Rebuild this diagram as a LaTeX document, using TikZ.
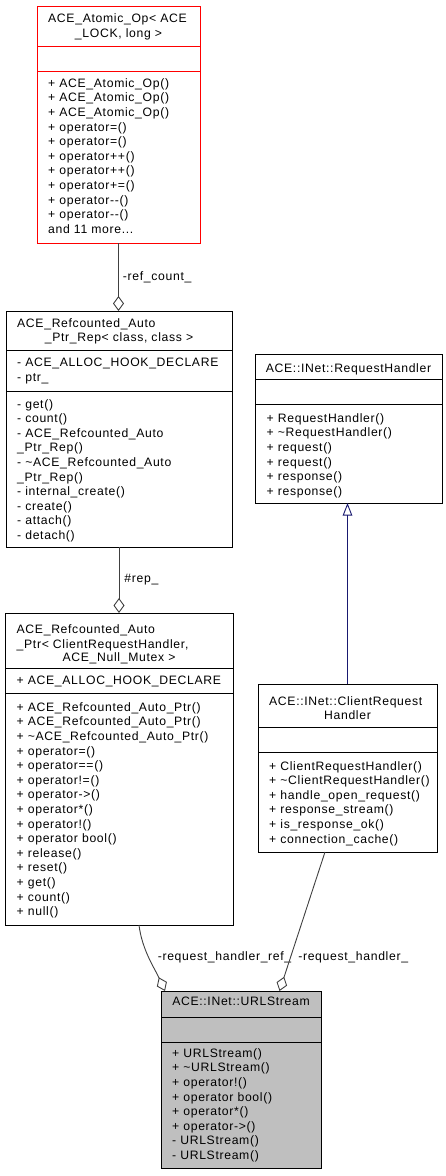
\documentclass[tikz,border=0pt]{standalone}
\usepackage{fontspec}
\setmainfont[LetterSpace=5.5]{Liberation Sans}
\usetikzlibrary{arrows.meta}

\definecolor{midnight}{HTML}{191970}
\newcommand{\umlfont}{\fontsize{12.2}{14.6}\selectfont}

\tikzset{
  classbox/.style={draw=black, line width=1pt, fill=white, anchor=north west, inner sep=0pt, outer sep=0pt},
  divider/.style={draw=black, line width=1pt},
  memberlist/.style={anchor=north west, align=left, inner sep=0pt, font=\umlfont},
  classtitle/.style={anchor=north, align=center, inner sep=0pt, font=\umlfont},
  aggr/.style={draw=black!75, line width=0.9pt, -{Diamond[open, length=15pt, width=11pt]}},
  inherit/.style={draw=midnight, line width=0.9pt, -{Triangle[open, length=12.5pt, width=9.5pt]}},
  edgelabel/.style={anchor=west, inner sep=0pt, font=\umlfont}
}

\begin{document}
\begin{tikzpicture}[x=1pt, y=-1pt]
        \useasboundingbox (0,0) rectangle (445,1176);

        % ACE_Atomic_Op
        \node[classbox, draw=red, minimum width=163pt, minimum height=236.6pt] (atomicop) at (37,6.7) {};
        \draw[divider, draw=red] (37,46.7) -- +(163,0);
        \draw[divider, draw=red] (37,71.7) -- +(163,0);
        \node[memberlist] (atomicop-t1) at (48,11.8) {\strut ACE\_Atomic\_Op< ACE};
        \node[classtitle] (atomicop-t2) at (118.5,26.8) {\strut\_LOCK, long >};
        \node[memberlist] (atomicop-m) at (48,76.8) {\strut + ACE\_Atomic\_Op()\\+ ACE\_Atomic\_Op()\\+ ACE\_Atomic\_Op()\\+ operator=()\\+ operator=()\\+ operator++()\\+ operator++()\\+ operator+=()\\+ operator-{}-()\\+ operator-{}-()\\and 11 more...};

        % ACE_Refcounted_Auto_Ptr_Rep
        \node[classbox, minimum width=226pt, minimum height=236pt] (refrep) at (6,311) {};
        \draw[divider] (6,350) -- +(226,0);
        \draw[divider] (6,391) -- +(226,0);
        \node[memberlist] (refrep-t1) at (17,316.8) {\strut ACE\_Refcounted\_Auto};
        \node[classtitle] (refrep-t2) at (119,331.3) {\strut\_Ptr\_Rep< class, class >};
        \node[memberlist] (refrep-a) at (17,356.3) {\strut - ACE\_ALLOC\_HOOK\_DECLARE\\- ptr\_};
        \node[memberlist] (refrep-m) at (17,397.6) {\strut - get()\\- count()\\- ACE\_Refcounted\_Auto\\\_Ptr\_Rep()\\- \textasciitilde ACE\_Refcounted\_Auto\\\_Ptr\_Rep()\\- internal\_create()\\- create()\\- attach()\\- detach()};

        % ACE::INet::RequestHandler
        \node[classbox, minimum width=187pt, minimum height=149pt] (reqhandler) at (255,354) {};
        \draw[divider] (255,379) -- +(187,0);
        \draw[divider] (255,404) -- +(187,0);
        \node[classtitle] (reqhandler-t) at (348.5,361.8) {\strut ACE::INet::RequestHandler};
        \node[memberlist] (reqhandler-m) at (266.5,411.8) {\strut + RequestHandler()\\+ \textasciitilde RequestHandler()\\+ request()\\+ request()\\+ response()\\+ response()};

        % ACE_Refcounted_Auto_Ptr
        \node[classbox, minimum width=228pt, minimum height=312pt] (refptr) at (5,613) {};
        \draw[divider] (5,668) -- +(228,0);
        \draw[divider] (5,693) -- +(228,0);
        \node[memberlist] (refptr-t1) at (16.5,623.4) {\strut ACE\_Refcounted\_Auto\\\_Ptr< ClientRequestHandler,};
        \node[classtitle] (refptr-t2) at (119,651.3) {\strut ACE\_Null\_Mutex >};
        \node[memberlist] (refptr-a) at (16.5,673.6) {\strut + ACE\_ALLOC\_HOOK\_DECLARE};
        \node[memberlist] (refptr-m) at (16.5,700.9) {\strut + ACE\_Refcounted\_Auto\_Ptr()\\+ ACE\_Refcounted\_Auto\_Ptr()\\+ \textasciitilde ACE\_Refcounted\_Auto\_Ptr()\\+ operator=()\\+ operator==()\\+ operator!=()\\+ operator->()\\+ operator*()\\+ operator!()\\+ operator bool()\\+ release()\\+ reset()\\+ get()\\+ count()\\+ null()};

        % ACE::INet::ClientRequestHandler
        \node[classbox, minimum width=179pt, minimum height=168pt] (clienthandler) at (258,684) {};
        \draw[divider] (258,727) -- +(179,0);
        \draw[divider] (258,752) -- +(179,0);
        \node[memberlist] (clienthandler-t1) at (269,695.3) {\strut ACE::INet::ClientRequest};
        \node[classtitle] (clienthandler-t2) at (347.5,708.8) {\strut Handler};
        \node[memberlist] (clienthandler-m) at (269,759.6) {\strut + ClientRequestHandler()\\+ \textasciitilde ClientRequestHandler()\\+ handle\_open\_request()\\+ response\_stream()\\+ is\_response\_ok()\\+ connection\_cache()};

        % ACE::INet::URLStream
        \node[classbox, fill=black!25, minimum width=160pt, minimum height=177pt] (urlstream) at (161,991) {};
        \draw[divider] (161,1017) -- +(160,0);
        \draw[divider] (161,1042) -- +(160,0);
        \node[classtitle] (urlstream-t) at (241,995.3) {\strut ACE::INet::URLStream};
        \node[memberlist] (urlstream-m) at (172,1046.8) {\strut + URLStream()\\+ \textasciitilde URLStream()\\+ operator!()\\+ operator bool()\\+ operator*()\\+ operator->()\\- URLStream()\\- URLStream()};

        % connectors
        \draw[aggr] (atomicop.south) -- (atomicop.south |- refrep.north)
            node[edgelabel, pos=0.5, xshift=4pt] {-ref\_count\_};
        \draw[aggr] (refrep.south) -- (refrep.south |- refptr.north)
            node[edgelabel, pos=0.5, xshift=5pt] {\#rep\_};
        \draw[inherit] (clienthandler.north) -- (clienthandler.north |- reqhandler.south);
        \draw[aggr] ([xshift=20pt]refptr.south) .. controls +(3,25) and +(-10,-22) .. ([xshift=-76pt]urlstream.north)
            node[edgelabel, pos=0.5, xshift=8pt, yshift=1.5pt] {-request\_handler\_ref\_};
        \draw[aggr] ([xshift=-22.5pt]clienthandler.south) -- ([xshift=38.5pt]urlstream.north)
            node[edgelabel, pos=0.75, xshift=7pt, yshift=-1pt] {-request\_handler\_};
\end{tikzpicture}
\end{document}
